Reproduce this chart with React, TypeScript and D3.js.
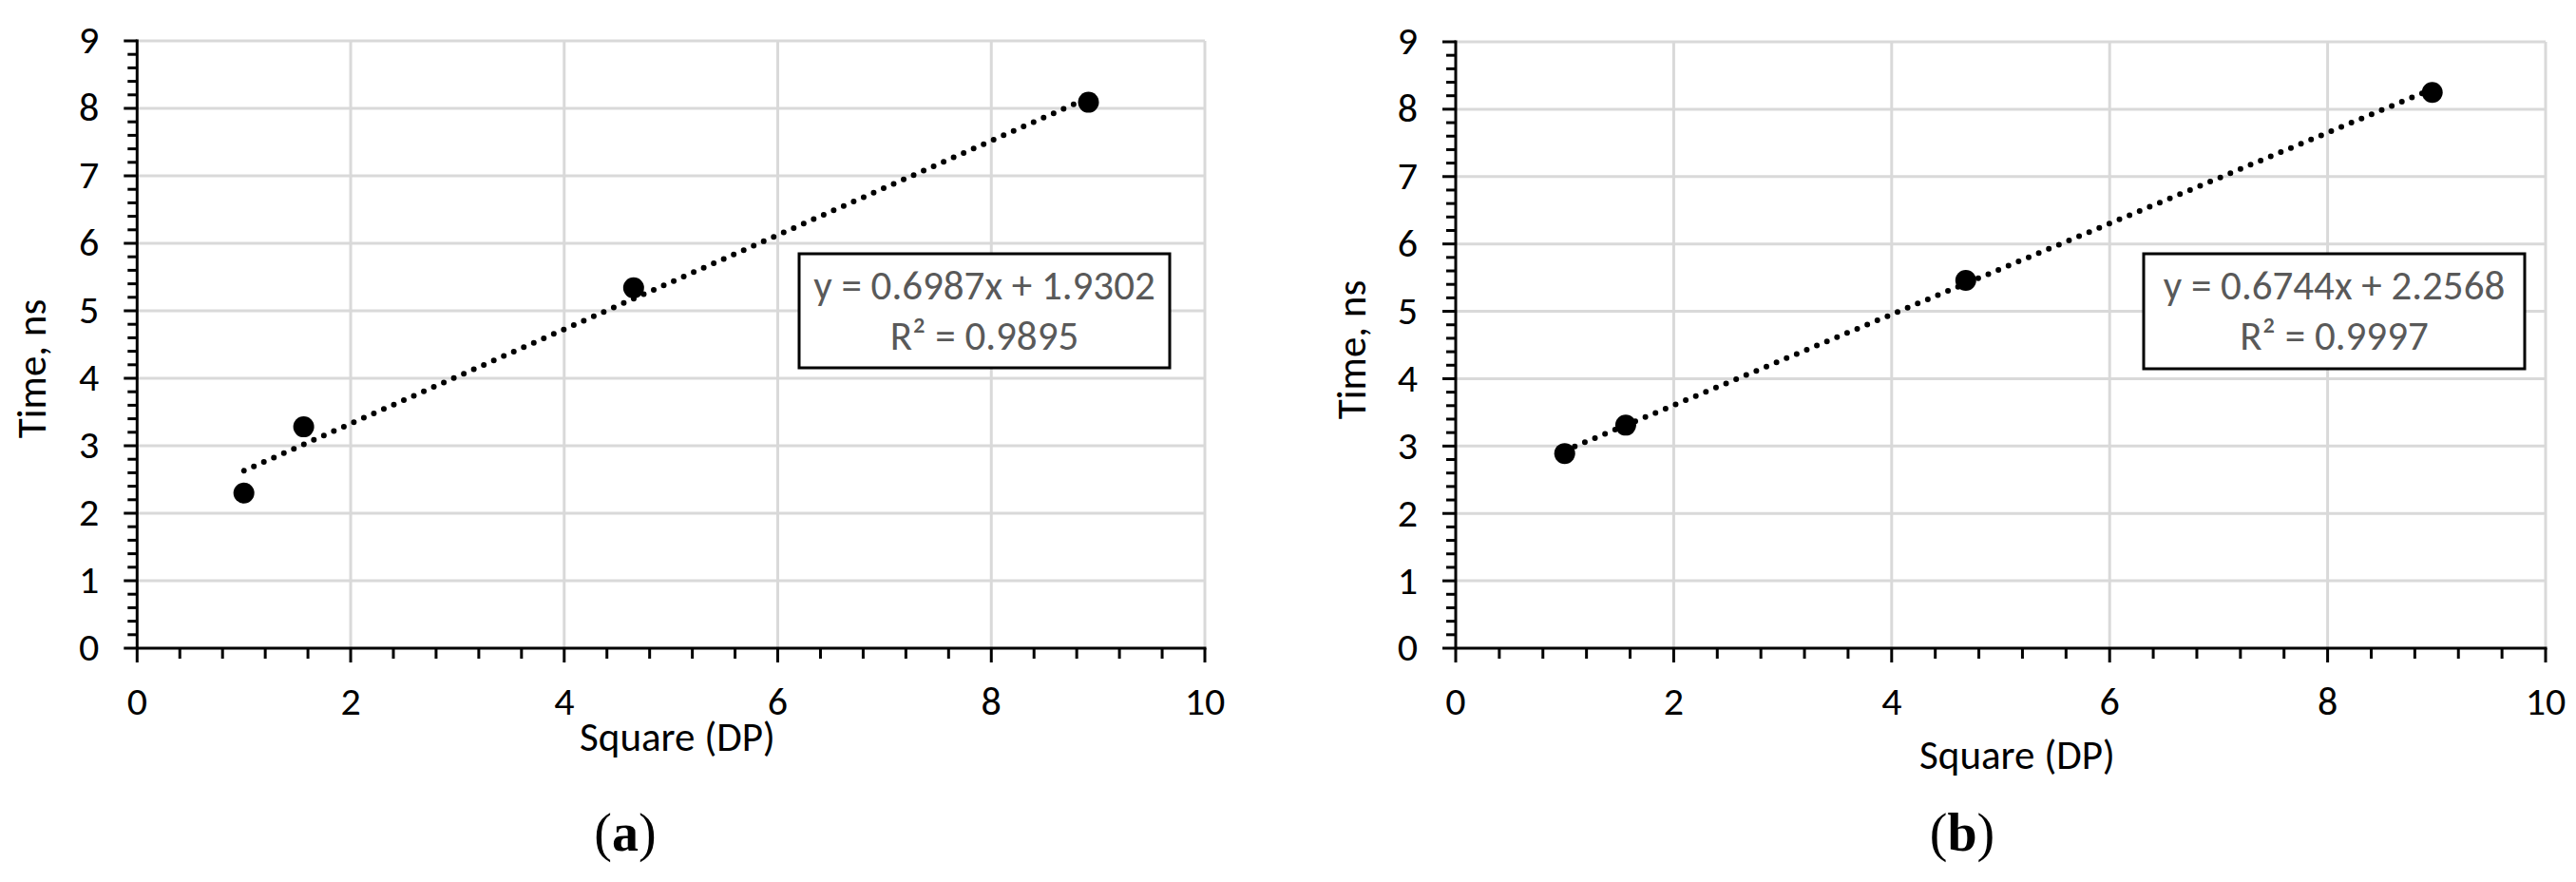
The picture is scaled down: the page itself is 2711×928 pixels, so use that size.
import React from "react";
import * as d3 from "d3";

// ---- data ----
const squareA = [1, 1.56, 4.65, 8.91];
const timeA = [2.3, 3.28, 5.34, 8.09];
const squareB = [1, 1.56, 4.68, 8.96];
const timeB = [2.89, 3.31, 5.46, 8.25];
const trendA = { slope: 0.6987, intercept: 1.9302, r2: "0.9895" };
const trendB = { slope: 0.6744, intercept: 2.2568, r2: "0.9997" };
const xDomain = [0, 10];
const yDomain = [0, 9];
const xTitle = "Square (DP)";
const yTitle = "Time, ns";
const captions = ["a", "b"];

const FONT = "Carlito, Calibri, 'Liberation Sans', Arial, sans-serif";
const GRID = "#d9d9d9";

type PanelProps = {
  xs: number[];
  ys: number[];
  trend: { slope: number; intercept: number; r2: string };
  caption: string;
  left: number;
  right: number;
  top: number;
  bottom: number;
  box: { x0: number; x1: number; y0: number; y1: number };
  xTitleX: number;
  xTitleY: number;
  yTitleX: number;
  yTitleY: number;
  captionX: number;
};

function Panel(p: PanelProps) {
  const x = d3.scaleLinear().domain(xDomain).range([p.left, p.right]);
  const y = d3.scaleLinear().domain(yDomain).range([p.bottom, p.top]);
  const xMajor = x.ticks(5);
  const yMajor = y.ticks(9);
  const xMinor = d3.range(xDomain[0], xDomain[1] + 1e-6, 0.4).filter((v) => Math.abs(v / 2 - Math.round(v / 2)) > 1e-6);
  const yMinor = d3.range(yDomain[0], yDomain[1] + 1e-6, 0.2).filter((v) => Math.abs(v - Math.round(v)) > 1e-6);
  const pts = p.xs.map((v, i) => [v, p.ys[i]] as [number, number]);
  const xmin = d3.min(p.xs)!;
  const xmax = d3.max(p.xs)!;
  const trendPts: [number, number][] = [xmin, xmax].map((v) => [v, p.trend.slope * v + p.trend.intercept]);
  const line = d3
    .line<[number, number]>()
    .x((d) => x(d[0]))
    .y((d) => y(d[1]));
  const eq = `y = ${p.trend.slope.toFixed(4)}x + ${p.trend.intercept.toFixed(4)}`;
  const boxCx = (p.box.x0 + p.box.x1) / 2;
  return (
    <g>
      {/* gridlines */}
      {yMajor.filter((v) => v > 0).map((v) => (
        <line key={"gy" + v} x1={p.left} x2={p.right} y1={y(v)} y2={y(v)} stroke={GRID} strokeWidth={3} />
      ))}
      {xMajor.filter((v) => v > 0).map((v) => (
        <line key={"gx" + v} x1={x(v)} x2={x(v)} y1={p.top} y2={p.bottom} stroke={GRID} strokeWidth={3} />
      ))}
      {/* axes */}
      <line x1={p.left} x2={p.left} y1={p.top - 1.5} y2={p.bottom} stroke="#000" strokeWidth={3} />
      <line x1={p.left} x2={p.right + 1.5} y1={p.bottom} y2={p.bottom} stroke="#000" strokeWidth={3} />
      {xMajor.map((v) => (
        <line key={"tx" + v} x1={x(v)} x2={x(v)} y1={p.bottom} y2={p.bottom + 15} stroke="#000" strokeWidth={3} />
      ))}
      {xMinor.map((v) => (
        <line key={"mx" + v} x1={x(v)} x2={x(v)} y1={p.bottom} y2={p.bottom + 11} stroke="#000" strokeWidth={3} />
      ))}
      {yMajor.map((v) => (
        <line key={"ty" + v} x1={p.left - 14} x2={p.left} y1={y(v)} y2={y(v)} stroke="#000" strokeWidth={3} />
      ))}
      {yMinor.map((v) => (
        <line key={"my" + v} x1={p.left - 10} x2={p.left} y1={y(v)} y2={y(v)} stroke="#000" strokeWidth={3} />
      ))}
      {/* tick labels */}
      {xMajor.map((v) => (
        <text key={"lx" + v} x={x(v)} y={p.bottom + 70} textAnchor="middle" fontSize={42} fontFamily={FONT} fill="#000">
          {v}
        </text>
      ))}
      {yMajor.map((v) => (
        <text key={"ly" + v} x={p.left - 40} y={y(v)} dy="0.32em" textAnchor="end" fontSize={42} fontFamily={FONT} fill="#000">
          {v}
        </text>
      ))}
      {/* titles */}
      <text x={p.xTitleX} y={p.xTitleY} textAnchor="middle" fontSize={43} fontFamily={FONT} fill="#000">
        {xTitle}
      </text>
      <text
        transform={`translate(${p.yTitleX},${p.yTitleY}) rotate(-90)`}
        textAnchor="middle"
        fontSize={43}
        fontFamily={FONT}
        fill="#000"
      >
        {yTitle}
      </text>
      {/* trendline */}
      <path d={line(trendPts)!} fill="none" stroke="#000" strokeWidth={6} strokeDasharray="0 11.5" strokeLinecap="round" />
      {/* points */}
      {pts.map((d, i) => (
        <circle key={"p" + i} cx={x(d[0])} cy={y(d[1])} r={11} fill="#000" />
      ))}
      {/* equation box */}
      <rect
        x={p.box.x0}
        y={p.box.y0}
        width={p.box.x1 - p.box.x0}
        height={p.box.y1 - p.box.y0}
        fill="#fff"
        stroke="#000"
        strokeWidth={3}
      />
      <text x={boxCx} y={p.box.y0 + 48} textAnchor="middle" fontSize={43} fontFamily={FONT} fill="#595959">
        {eq}
      </text>
      <text x={boxCx} y={p.box.y0 + 101} textAnchor="middle" fontSize={43} fontFamily={FONT} fill="#595959">
        {"R² = " + p.trend.r2}
      </text>
      {/* caption */}
      <text x={p.captionX} y={895} textAnchor="middle" fontSize={56} fontFamily="'Liberation Serif', 'Times New Roman', serif" fill="#000">
        (<tspan fontWeight="bold">{p.caption}</tspan>)
      </text>
    </g>
  );
}

export default function App() {
  return (
    <svg
      width={2711}
      height={928}
      style={{ position: "absolute", left: 0, top: 0, background: "#fff" }}
      xmlns="http://www.w3.org/2000/svg"
    >
      <rect x={0} y={0} width={2711} height={928} fill="#fff" />
      <Panel
        xs={squareA}
        ys={timeA}
        trend={trendA}
        caption={captions[0]}
        left={144.3}
        right={1268}
        top={43}
        bottom={682}
        box={{ x0: 841, x1: 1231, y0: 267, y1: 387 }}
        xTitleX={713}
        xTitleY={790}
        yTitleX={48}
        yTitleY={388}
        captionX={658}
      />
      <Panel
        xs={squareB}
        ys={timeB}
        trend={trendB}
        caption={captions[1]}
        left={1532}
        right={2679}
        top={44}
        bottom={682}
        box={{ x0: 2256, x1: 2657, y0: 267, y1: 388 }}
        xTitleX={2123}
        xTitleY={809}
        yTitleX={1437}
        yTitleY={368}
        captionX={2065}
      />
    </svg>
  );
}
